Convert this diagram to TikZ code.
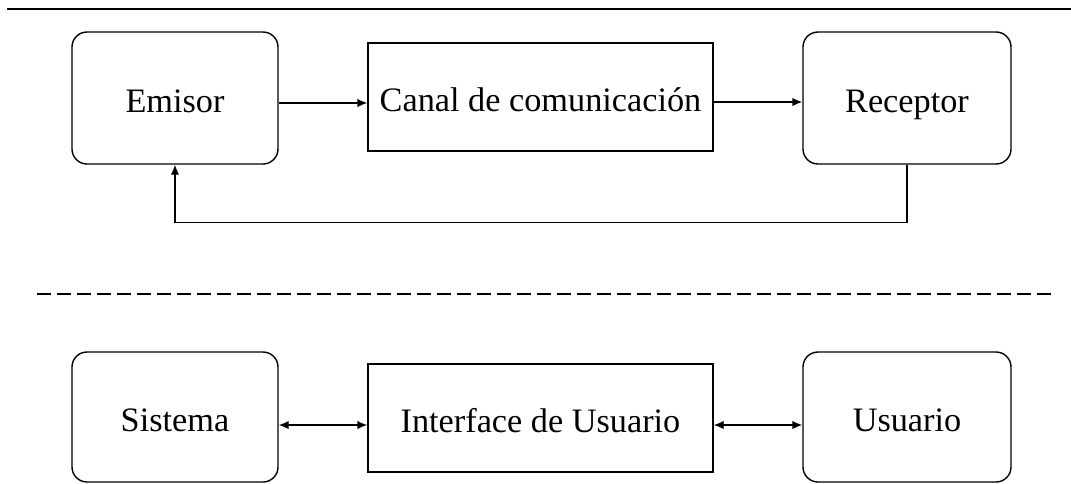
\documentclass[tikz,border=0pt]{standalone}
\usepackage{fontspec}
\setmainfont{Liberation Serif}
\usetikzlibrary{arrows.meta}

\begin{document}
\begin{tikzpicture}[line width=0.8pt,
		caja/.style={draw, text height=0.66cm, text depth=0.1cm},
		bloque/.style={caja, rounded corners=0.3cm, minimum width=4.12cm, minimum height=2.64cm},
		canalbox/.style={caja, minimum width=6.9cm, minimum height=2.16cm},
		flecha/.style={-{Latex[length=0.2cm,width=0.17cm]}},
		doble/.style={{Latex[length=0.2cm,width=0.17cm]}-{Latex[length=0.2cm,width=0.17cm]}}]
		\useasboundingbox (0,0) rectangle (21.42,-9.66);
		\fontsize{19.5}{23}\selectfont
		% lineas de separacion
		\draw (0.14,-0.18) -- (21.42,-0.18);
		\draw[dash pattern=on 0.28cm off 0.12cm] (0.74,-5.88) -- (21.1,-5.88);
		% fila de arriba
		\node[bloque] (emisor) at (3.5,-1.96) {Emisor};
		\node[canalbox] (canal) at (10.81,-1.94) {Canal de comunicación};
		\node[bloque, minimum width=4.16cm] (receptor) at (18.14,-1.96) {Receptor};
		\draw[flecha] ([yshift=-0.1cm]emisor.east) -- ([yshift=-0.1cm]emisor.east -| canal.west);
		\draw[flecha] ([yshift=-0.1cm]canal.east) -- ([yshift=-0.1cm]canal.east -| receptor.west);
		\draw[flecha] (receptor.south) -- ++(0,-1.16) -| (emisor.south);
		% fila de abajo
		\node[bloque, minimum height=2.6cm] (sistema) at (3.5,-8.34) {Sistema};
		\node[canalbox] (interfaz) at (10.81,-8.36) {Interface de Usuario};
		\node[bloque, minimum width=4.16cm, minimum height=2.6cm] (usuario) at (18.14,-8.34) {Usuario};
		\draw[doble] ([yshift=-0.16cm]sistema.east) -- ([yshift=-0.16cm]sistema.east -| interfaz.west);
		\draw[doble] ([yshift=-0.14cm]interfaz.east) -- ([yshift=-0.14cm]interfaz.east -| usuario.west);
	\end{tikzpicture}
\end{document}
